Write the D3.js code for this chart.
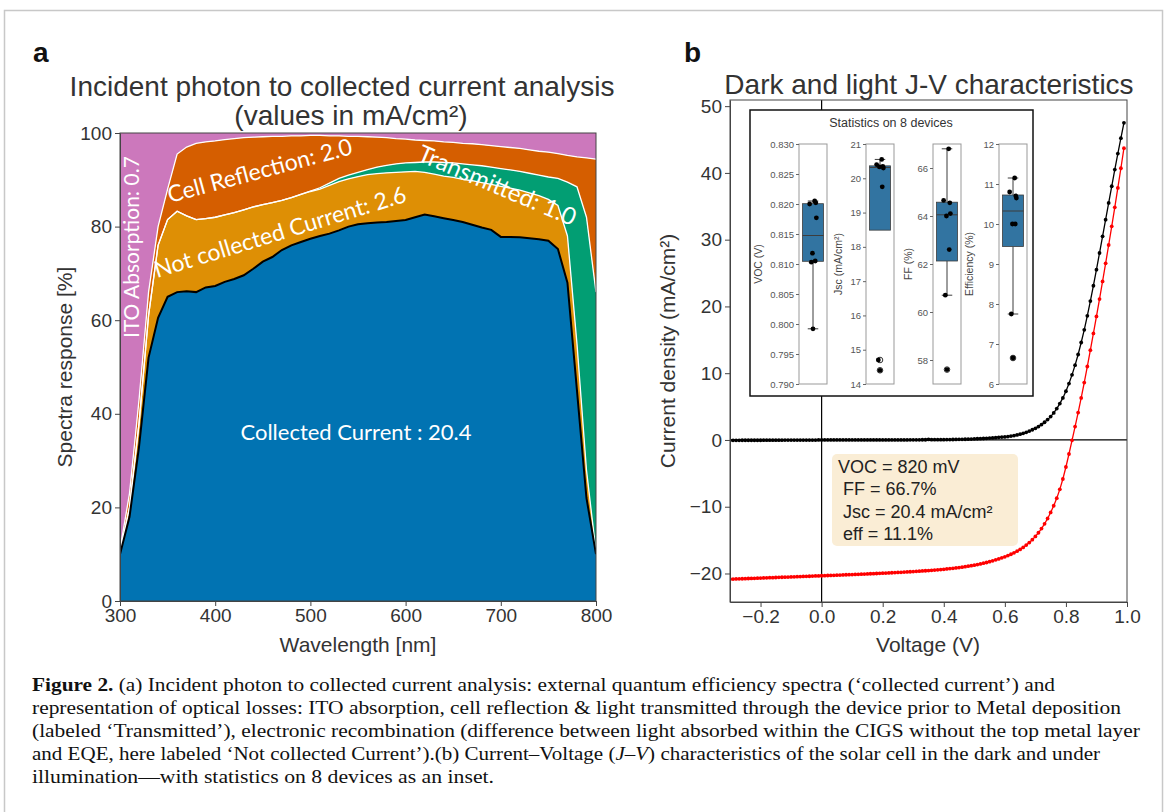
<!DOCTYPE html>
<html>
<head>
<meta charset="utf-8">
<script src="https://cdn.jsdelivr.net/npm/d3@7"></script>
<style>
body { margin: 0; background: #fff; }
svg text { font-family: "Liberation Sans", Arial, sans-serif; }
</style>
</head>
<body>
<svg id="fig" width="1167" height="812"></svg>
<script>

// ---------- panel a : spectra (cumulative boundaries, %) ----------
const wavelength = [300, 310, 320, 330, 340, 350, 360, 370, 380, 390,
	400, 410, 420, 430, 440, 450, 460, 470, 480, 490,
	500, 510, 520, 530, 540, 550, 560, 570, 580, 590,
	600, 610, 620, 630, 640, 650, 660, 670, 680, 690,
	700, 710, 720, 730, 740, 750, 760, 770, 780, 790, 800];
const collectedTop = [10, 18, 33, 52, 60.5, 65, 66, 66.2, 66, 67,
	67.3, 68.2, 68.8, 69.6, 71, 72.5, 73.5, 75, 76, 76.7,
	77.4, 78, 78.5, 79.2, 80, 80.5, 80.7, 80.9, 81, 81.2,
	81.4, 82, 82.6, 82.2, 81.8, 81.4, 81, 80.4, 79.8, 79.3,
	77.8, 77.8, 77.7, 77.5, 77.3, 77, 75.2, 68, 45, 22, 10];
const notCollectedTop = [10.5, 20, 38, 61, 76, 81.5, 83.3, 82.3, 81.5, 81.7,
	82, 82.5, 83, 83.6, 84.2, 84.7, 85.1, 85.6, 86.2, 86.9,
	87.5, 88, 88.8, 89.6, 90.2, 90.7, 91.1, 91.3, 91.5, 91.6,
	91.7, 91.8, 91.6, 91.2, 90.8, 90.5, 90.1, 89.8, 89.4, 89,
	88.6, 88.2, 87.8, 87.2, 86.6, 85.8, 84.5, 78, 55, 28, 10.5];
const transmittedTop = [10.5, 20, 38, 61, 76, 81.5, 83.3, 82.3, 81.5, 81.7,
	82, 82.5, 83, 83.6, 84.2, 84.7, 85.1, 85.6, 86.2, 86.9,
	87.6, 88.3, 89.3, 90.3, 91, 91.6, 92.2, 92.7, 93.1, 93.4,
	93.6, 93.7, 93.8, 93.8, 93.7, 93.6, 93.4, 93.2, 93, 92.7,
	92.4, 92.1, 91.8, 91.4, 91, 90.6, 90.3, 89.5, 88.5, 82, 66];
const reflectionTop = [11, 23, 43, 66, 80, 88, 95.5, 97, 97.8, 98.1,
	98.3, 98.6, 98.8, 99, 99.1, 99.2, 99.3, 99.3, 99.4, 99.4,
	99.5, 99.5, 99.4, 99.4, 99.3, 99.3, 99.2, 99.1, 99, 98.8,
	98.7, 98.5, 98.4, 98.3, 98.1, 98, 97.8, 97.7, 97.5, 97.3,
	97.1, 96.9, 96.7, 96.4, 96.1, 95.9, 95.6, 95.2, 94.9, 94.7, 94.4];
const itoTop = 100;
const layerColors = ['#0173b2', '#de8f05', '#029e73', '#d55e00', '#cc78bc'];
const xTicksA = [300, 400, 500, 600, 700, 800];
const yTicksA = [0, 20, 40, 60, 80, 100];

// ---------- panel b : J-V curves ----------
const voltage = [-0.30, -0.29, -0.28, -0.27, -0.26, -0.25, -0.24, -0.23, -0.22, -0.21,
	-0.20, -0.19, -0.18, -0.17, -0.16, -0.15, -0.14, -0.13, -0.12, -0.11,
	-0.10, -0.09, -0.08, -0.07, -0.06, -0.05, -0.04, -0.03, -0.02, -0.01,
	0.00, 0.01, 0.02, 0.03, 0.04, 0.05, 0.06, 0.07, 0.08, 0.09,
	0.10, 0.11, 0.12, 0.13, 0.14, 0.15, 0.16, 0.17, 0.18, 0.19,
	0.20, 0.21, 0.22, 0.23, 0.24, 0.25, 0.26, 0.27, 0.28, 0.29,
	0.30, 0.31, 0.32, 0.33, 0.34, 0.35, 0.36, 0.37, 0.38, 0.39,
	0.40, 0.41, 0.42, 0.43, 0.44, 0.45, 0.46, 0.47, 0.48, 0.49,
	0.50, 0.51, 0.52, 0.53, 0.54, 0.55, 0.56, 0.57, 0.58, 0.59,
	0.60, 0.61, 0.62, 0.63, 0.64, 0.65, 0.66, 0.67, 0.68, 0.69,
	0.70, 0.71, 0.72, 0.73, 0.74, 0.75, 0.76, 0.77, 0.78, 0.79,
	0.80, 0.81, 0.82, 0.83, 0.84, 0.85, 0.86, 0.87, 0.88, 0.89,
	0.90, 0.91, 0.92, 0.93, 0.94, 0.95, 0.96, 0.97, 0.98, 0.99];
const darkJ = [-0.05, -0.05, -0.05, -0.05, -0.04, -0.04, -0.04, -0.04, -0.04, -0.04,
	-0.04, -0.03, -0.03, -0.03, -0.03, -0.03, -0.03, -0.03, -0.02, -0.02,
	-0.02, -0.02, -0.02, -0.02, -0.01, -0.01, -0.01, -0.01, -0.01, 0.00,
	0.00, 0.00, 0.00, 0.00, 0.00, 0.00, 0.00, 0.00, 0.00, 0.00,
	0.00, 0.00, 0.00, 0.00, 0.00, 0.01, 0.01, 0.01, 0.01, 0.01,
	0.01, 0.01, 0.01, 0.01, 0.01, 0.01, 0.01, 0.01, 0.01, 0.02,
	0.02, 0.02, 0.02, 0.03, 0.03, 0.08, 0.04, 0.04, 0.04, 0.05,
	0.05, 0.06, 0.06, 0.07, 0.08, 0.09, 0.10, 0.11, 0.12, 0.14,
	0.16, 0.18, 0.20, 0.22, 0.25, 0.28, 0.31, 0.35, 0.39, 0.44,
	0.45, 0.51, 0.58, 0.66, 0.76, 0.87, 1.00, 1.15, 1.33, 1.53,
	1.75, 2.00, 2.30, 2.65, 3.05, 3.50, 4.05, 4.70, 5.45, 6.30,
	7.30, 8.45, 9.75, 11.20, 12.80, 14.60, 16.50, 18.60, 20.80, 23.10,
	25.50, 28.00, 30.50, 33.00, 35.50, 38.00, 40.50, 42.90, 45.20, 47.50];
const lightJ = [-20.85, -20.84, -20.82, -20.80, -20.79, -20.77, -20.75, -20.74, -20.72, -20.70,
	-20.68, -20.67, -20.65, -20.63, -20.62, -20.60, -20.58, -20.56, -20.55, -20.53,
	-20.51, -20.50, -20.48, -20.46, -20.44, -20.43, -20.41, -20.39, -20.37, -20.36,
	-20.34, -20.32, -20.30, -20.29, -20.27, -20.25, -20.23, -20.21, -20.19, -20.18,
	-20.16, -20.14, -20.12, -20.10, -20.08, -20.06, -20.04, -20.02, -20.00, -19.98,
	-19.96, -19.94, -19.91, -19.89, -19.87, -19.84, -19.82, -19.79, -19.77, -19.74,
	-19.71, -19.68, -19.65, -19.62, -19.59, -19.56, -19.52, -19.49, -19.45, -19.41,
	-19.37, -19.32, -19.27, -19.22, -19.17, -19.11, -19.05, -18.98, -18.91, -18.83,
	-18.75, -18.66, -18.56, -18.46, -18.35, -18.23, -18.10, -17.96, -17.82, -17.66,
	-17.50, -17.32, -17.12, -16.90, -16.66, -16.39, -16.09, -15.75, -15.37, -14.94,
	-14.45, -13.90, -13.27, -12.56, -11.76, -10.86, -9.85, -8.72, -7.40, -5.85,
	-4.05, -2.10, -0.05, 2.00, 4.10, 6.30, 8.60, 11.00, 13.45, 15.95,
	18.50, 21.10, 23.75, 26.45, 29.20, 32.00, 34.85, 37.75, 40.70, 43.70];
const xTicksB = [-0.2, 0.0, 0.2, 0.4, 0.6, 0.8, 1.0];
const yTicksB = [-20, -10, 0, 10, 20, 30, 40, 50];
const resultLines = ['VOC = 820 mV', ' FF = 66.7%', ' Jsc = 20.4 mA/cm²', ' eff = 11.1%'];

// ---------- inset : statistics on 8 devices ----------
const statNames = ['VOC (V)', 'Jsc (mA/cm²)', 'FF (%)', 'Efficiency (%)'];
const vocValues = [0.8205, 0.8200, 0.8202, 0.8177, 0.8118, 0.8105, 0.8103, 0.7992];
const jscValues = [20.55, 20.40, 20.35, 20.30, 20.33, 19.75, 14.70, 14.40];
const ffValues = [66.8, 64.65, 64.55, 64.1, 64.0, 62.6, 60.7, 57.6];
const effValues = [11.15, 10.8, 10.7, 10.65, 10.0, 10.0, 7.75, 6.65];
const vocTicks = [0.790, 0.795, 0.800, 0.805, 0.810, 0.815, 0.820, 0.825, 0.830];
const jscTicks = [14, 15, 16, 17, 18, 19, 20, 21];
const ffTicks = [58, 60, 62, 64, 66];
const effTicks = [6, 7, 8, 9, 10, 11, 12];
const stripJitter = [0.06, -0.12, 0.1, 0.12, -0.02, 0.08, -0.06, 0.0];

const svg = d3.select('#fig');
const tickColor = '#333';

// page frame
svg.append('rect')
	.attr('x', 4.5).attr('y', 10.5)
	.attr('width', 1158).attr('height', 840)
	.attr('fill', 'none').attr('stroke', '#c8c8c8').attr('stroke-width', 1.5);

function styleAxis(g, size) {
	g.selectAll('.domain').attr('stroke', '#444');
	g.selectAll('.tick line').attr('stroke', '#444');
	g.selectAll('text').attr('fill', tickColor).style('font-size', size + 'px');
}

// ================= panel a =================
const xA = d3.scaleLinear().domain([300, 800]).range([120, 596]);
const yA = d3.scaleLinear().domain([0, 100]).range([601, 133]);

svg.append('text').attr('x', 33).attr('y', 62)
	.style('font-size', '28px').style('font-weight', 'bold').attr('fill', '#111').text('a');
svg.append('text').attr('x', 342).attr('y', 96).attr('text-anchor', 'middle')
	.style('font-size', '28px').attr('fill', '#333').text('Incident photon to collected current analysis');
svg.append('text').attr('x', 351).attr('y', 125).attr('text-anchor', 'middle')
	.style('font-size', '28px').attr('fill', '#333').text('(values in mA/cm²)');

svg.append('clipPath').attr('id', 'clipA').append('rect')
	.attr('x', 120).attr('y', 133).attr('width', 476).attr('height', 468);
const gA = svg.append('g').attr('clip-path', 'url(#clipA)');

let bounds = [wavelength.map(() => 0), collectedTop, notCollectedTop, transmittedTop, reflectionTop,
	wavelength.map(() => itoTop)];
for (let k = 0; k < 5; ++k) {
	let lo = bounds[k], hi = bounds[k + 1];
	gA.append('path')
		.attr('fill', layerColors[k])
		.attr('d', d3.area()
			.x(d => xA(d))
			.y0((d, i) => yA(lo[i]))
			.y1((d, i) => yA(hi[i]))(wavelength));
}
// white separation lines and the black EQE line
[notCollectedTop, transmittedTop, reflectionTop].forEach(arr => {
	gA.append('path').attr('fill', 'none').attr('stroke', '#fff').attr('stroke-width', 1.3)
		.attr('d', d3.line().x(d => xA(d)).y((d, i) => yA(arr[i]))(wavelength));
});
gA.append('path').attr('fill', 'none').attr('stroke', '#000').attr('stroke-width', 2)
	.attr('d', d3.line().x(d => xA(d)).y((d, i) => yA(collectedTop[i]))(wavelength));

// labels inside the stack
const labFont = 'Lato, "Open Sans", sans-serif';
function areaLabel(txt, x, y, rot, size, anchor) {
	svg.append('text')
		.attr('transform', `translate(${x},${y}) rotate(${rot})`)
		.attr('text-anchor', anchor || 'start')
		.attr('fill', '#fff')
		.style('font-family', labFont)
		.style('font-size', size + 'px')
		.text(txt);
}
areaLabel('ITO Absorption: 0.7', 139, 338, -90, 21);
areaLabel('Cell Reflection: 2.0', 170, 203, -15, 23);
areaLabel('Not collected Current: 2.6', 157, 278, -17, 23);
areaLabel('Transmitted: 1.0', 416, 160, 23, 24);
areaLabel('Collected Current : 20.4', 356, 440, 0, 22, 'middle');

// frame + axes
svg.append('rect').attr('x', 120).attr('y', 133).attr('width', 476).attr('height', 468)
	.attr('fill', 'none').attr('stroke', '#444');
svg.append('g').attr('transform', 'translate(0,601)')
	.call(d3.axisBottom(xA).tickValues(xTicksA).tickSize(5).tickSizeOuter(0).tickPadding(3))
	.call(g => styleAxis(g, 19));
svg.append('g').attr('transform', 'translate(120,0)')
	.call(d3.axisLeft(yA).tickValues(yTicksA).tickSize(5).tickSizeOuter(0).tickPadding(3))
	.call(g => styleAxis(g, 19));
svg.append('text').attr('x', 358).attr('y', 652).attr('text-anchor', 'middle')
	.style('font-size', '21px').attr('fill', '#333').text('Wavelength [nm]');
svg.append('text').attr('transform', 'translate(72,367) rotate(-90)').attr('text-anchor', 'middle')
	.style('font-size', '21px').attr('fill', '#333').text('Spectra response [%]');

// ================= panel b =================
const xB = d3.scaleLinear().domain([-0.3, 1.0]).range([730, 1127]);
const yB = d3.scaleLinear().domain([-24.27, 50.92]).range([602, 100]);

svg.append('text').attr('x', 684).attr('y', 62)
	.style('font-size', '28px').style('font-weight', 'bold').attr('fill', '#111').text('b');
svg.append('text').attr('x', 929).attr('y', 94).attr('text-anchor', 'middle')
	.style('font-size', '28px').attr('fill', '#333').text('Dark and light J-V characteristics');

svg.append('clipPath').attr('id', 'clipB').append('rect')
	.attr('x', 730).attr('y', 100).attr('width', 397).attr('height', 502);
const gB = svg.append('g').attr('clip-path', 'url(#clipB)');

gB.append('line').attr('x1', 730).attr('x2', 1127).attr('y1', yB(0)).attr('y2', yB(0))
	.attr('stroke', '#000').attr('stroke-width', 1.2);
gB.append('line').attr('x1', xB(0)).attr('x2', xB(0)).attr('y1', 100).attr('y2', 602)
	.attr('stroke', '#000').attr('stroke-width', 1.2);

function drawCurve(values, color) {
	gB.append('path').attr('fill', 'none').attr('stroke', color).attr('stroke-width', 1.3)
		.attr('d', d3.line().x(d => xB(d)).y((d, i) => yB(values[i]))(voltage));
	gB.append('g').selectAll('circle').data(voltage).join('circle')
		.attr('cx', d => xB(d)).attr('cy', (d, i) => yB(values[i]))
		.attr('r', 1.9).attr('fill', color);
}
drawCurve(darkJ, '#000');
drawCurve(lightJ, '#ff0000');

// result box
svg.append('rect').attr('x', 832).attr('y', 454).attr('width', 186).attr('height', 92).attr('rx', 5)
	.attr('fill', '#f5deb3').attr('fill-opacity', 0.55);
svg.append('g').selectAll('text').data(resultLines).join('text')
	.attr('x', 838).attr('y', (d, i) => 473 + i * 22.3)
	.attr('xml:space', 'preserve')
	.style('white-space', 'pre')
	.style('font-size', '18px').attr('fill', '#222')
	.text(d => d);

svg.append('rect').attr('x', 730).attr('y', 100).attr('width', 397).attr('height', 502)
	.attr('fill', 'none').attr('stroke', '#444');
svg.append('g').attr('transform', 'translate(0,602)')
	.call(d3.axisBottom(xB).tickValues(xTicksB).tickFormat(d3.format('.1f')).tickSize(5).tickSizeOuter(0).tickPadding(3))
	.call(g => styleAxis(g, 19));
svg.append('g').attr('transform', 'translate(730,0)')
	.call(d3.axisLeft(yB).tickValues(yTicksB).tickSize(5).tickSizeOuter(0).tickPadding(3))
	.call(g => styleAxis(g, 19));
svg.append('text').attr('x', 928).attr('y', 652).attr('text-anchor', 'middle')
	.style('font-size', '21px').attr('fill', '#333').text('Voltage (V)');
svg.append('text').attr('transform', 'translate(675,351) rotate(-90)').attr('text-anchor', 'middle')
	.style('font-size', '21px').attr('fill', '#333').text('Current density (mA/cm²)');

// ---------- inset ----------
svg.append('rect').attr('x', 750).attr('y', 110).attr('width', 283).attr('height', 286)
	.attr('fill', '#fff').attr('stroke', '#111').attr('stroke-width', 1.5);
svg.append('text').attr('x', 891).attr('y', 127).attr('text-anchor', 'middle')
	.style('font-size', '12.5px').attr('fill', '#333').text('Statistics on 8 devices');

const statSets = [
	{ name: statNames[0], values: vocValues, domain: [0.790, 0.830], ticks: vocTicks, fmt: d3.format('.3f') },
	{ name: statNames[1], values: jscValues, domain: [14, 21], ticks: jscTicks, fmt: d3.format('d') },
	{ name: statNames[2], values: ffValues, domain: [57, 67], ticks: ffTicks, fmt: d3.format('d') },
	{ name: statNames[3], values: effValues, domain: [6, 12], ticks: effTicks, fmt: d3.format('d') }
];
const axLeft = [799, 866, 933, 999];
const labelX = [762, 842, 912, 973];
const axW = 28, axTop = 144, axBot = 384;
const boxBlue = '#3274a1', boxEdge = '#3d3d3d';

statSets.forEach((s, k) => {
	const ys = d3.scaleLinear().domain(s.domain).range([axBot, axTop]);
	const left = axLeft[k], xc = left + axW / 2, bw = axW * 0.75;
	const g = svg.append('g');
	g.append('rect').attr('x', left).attr('y', axTop).attr('width', axW).attr('height', axBot - axTop)
		.attr('fill', '#fff').attr('stroke', '#999').attr('stroke-width', 1);

	const sorted = s.values.slice().sort(d3.ascending);
	const q1 = d3.quantile(sorted, 0.25), med = d3.quantile(sorted, 0.5), q3 = d3.quantile(sorted, 0.75);
	const iqr = q3 - q1;
	const inner = sorted.filter(v => v >= q1 - 1.5 * iqr && v <= q3 + 1.5 * iqr);
	const fliers = sorted.filter(v => v < q1 - 1.5 * iqr || v > q3 + 1.5 * iqr);
	const lo = d3.min(inner), hi = d3.max(inner);

	// whiskers only where they leave the box
	[[q1, lo], [q3, hi]].forEach(([from, to]) => {
		if ((to < from && from === q1) || (to > from && from === q3)) {
			g.append('line').attr('x1', xc).attr('x2', xc).attr('y1', ys(from)).attr('y2', ys(to))
				.attr('stroke', boxEdge).attr('stroke-width', 1);
			g.append('line').attr('x1', xc - bw / 4).attr('x2', xc + bw / 4).attr('y1', ys(to)).attr('y2', ys(to))
				.attr('stroke', boxEdge).attr('stroke-width', 1);
		}
	});
	g.append('rect').attr('x', xc - bw / 2).attr('y', ys(q3)).attr('width', bw).attr('height', ys(q1) - ys(q3))
		.attr('fill', boxBlue).attr('stroke', boxEdge).attr('stroke-width', 0.8);
	g.append('line').attr('x1', xc - bw / 2).attr('x2', xc + bw / 2).attr('y1', ys(med)).attr('y2', ys(med))
		.attr('stroke', boxEdge).attr('stroke-width', 1);
	g.selectAll('circle.flier').data(fliers).join('circle').attr('class', 'flier')
		.attr('cx', xc).attr('cy', d => ys(d)).attr('r', 2.8)
		.attr('fill', '#fff').attr('stroke', '#333');
	g.selectAll('circle.pt').data(s.values).join('circle').attr('class', 'pt')
		.attr('cx', (d, i) => xc + stripJitter[i] * axW).attr('cy', d => ys(d)).attr('r', 2.4)
		.attr('fill', '#000');

	g.append('g').attr('transform', `translate(${left},0)`)
		.call(d3.axisLeft(ys).tickValues(s.ticks).tickFormat(s.fmt).tickSize(3).tickSizeOuter(0).tickPadding(2))
		.call(a => {
			a.select('.domain').remove();
			a.selectAll('.tick line').attr('stroke', '#666');
			a.selectAll('text').attr('fill', '#555').style('font-size', '9.5px');
		});
	g.append('text').attr('transform', `translate(${labelX[k]},${(axTop + axBot) / 2}) rotate(-90)`)
		.attr('text-anchor', 'middle').style('font-size', '10.5px').attr('fill', '#444').text(s.name);
});

// ================= caption =================
const capFont = '"Liberation Serif", "DejaVu Serif", serif';
const captionLines = [
	[['b', 'Figure 2.'], ['n', ' (a) Incident photon to collected current analysis: external quantum efficiency spectra (‘collected current’) and']],
	[['n', 'representation of optical losses: ITO absorption, cell reflection & light transmitted through the device prior to Metal deposition']],
	[['n', '(labeled ‘Transmitted’), electronic recombination (difference between light absorbed within the CIGS without the top metal layer']],
	[['n', 'and EQE, here labeled ‘Not collected Current’).(b) Current–Voltage ('], ['i', 'J'], ['n', '–'], ['i', 'V'], ['n', ') characteristics of the solar cell in the dark and under']],
	[['n', 'illumination—with statistics on 8 devices as an inset.']]
];
const captionWidths = [1023, 1089, 1108, 1068, 462];
captionLines.forEach((parts, li) => {
	const t = svg.append('text').attr('x', 32).attr('y', 691 + li * 23)
		.attr('textLength', captionWidths[li]).attr('lengthAdjust', 'spacingAndGlyphs')
		.style('font-family', capFont).style('font-size', '19px').attr('fill', '#111');
	parts.forEach(([kind, str]) => {
		t.append('tspan')
			.style('font-weight', kind === 'b' ? 'bold' : 'normal')
			.style('font-style', kind === 'i' ? 'italic' : 'normal')
			.text(str);
	});
});
</script>
</body>
</html>
